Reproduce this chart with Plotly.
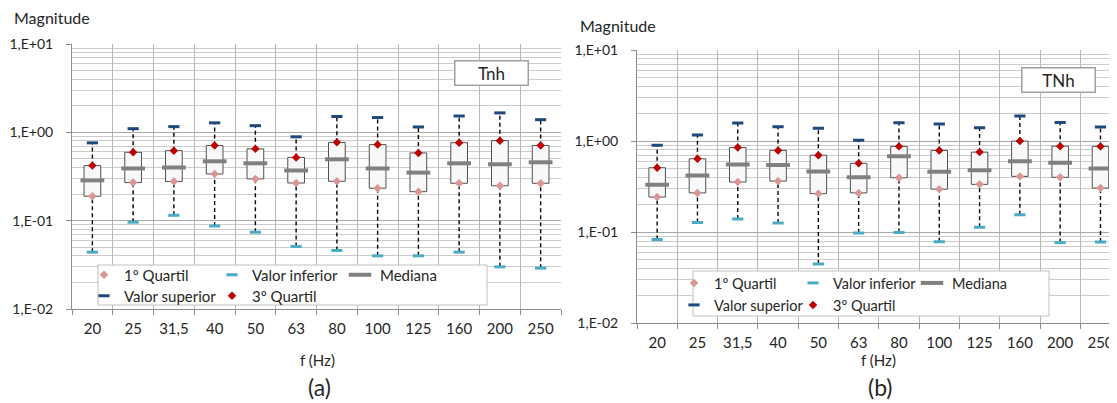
import plotly.graph_objects as go

freq = ["20", "25", "31,5", "40", "50", "63", "80", "100", "125", "160", "200", "250"]

# Panel (a) - Tnh
a_lower = [0.044, 0.096, 0.115, 0.087, 0.074, 0.051, 0.046, 0.040, 0.040, 0.044, 0.030, 0.029]
a_q1 = [0.189, 0.270, 0.277, 0.338, 0.297, 0.267, 0.279, 0.233, 0.213, 0.265, 0.248, 0.265]
a_med = [0.286, 0.390, 0.400, 0.470, 0.446, 0.370, 0.495, 0.390, 0.350, 0.446, 0.435, 0.458]
a_q3 = [0.420, 0.594, 0.620, 0.710, 0.650, 0.520, 0.770, 0.726, 0.585, 0.764, 0.805, 0.710]
a_upper = [0.76, 1.10, 1.16, 1.28, 1.19, 0.89, 1.51, 1.47, 1.15, 1.53, 1.66, 1.39]

# Panel (b) - TNh
b_lower = [0.083, 0.128, 0.140, 0.126, 0.0447, 0.098, 0.099, 0.0787, 0.113, 0.155, 0.077, 0.078]
b_q1 = [0.243, 0.270, 0.355, 0.364, 0.265, 0.270, 0.396, 0.297, 0.335, 0.410, 0.400, 0.305]
b_med = [0.332, 0.420, 0.555, 0.545, 0.465, 0.400, 0.680, 0.460, 0.480, 0.600, 0.580, 0.500]
b_q3 = [0.510, 0.640, 0.850, 0.790, 0.700, 0.570, 0.875, 0.790, 0.757, 1.000, 0.880, 0.875]
b_upper = [0.90, 1.17, 1.58, 1.44, 1.38, 1.02, 1.59, 1.54, 1.40, 1.88, 1.60, 1.43]

y_tickvals = [0.01, 0.1, 1, 10]
y_ticktext = ["1,E-02", "1,E-01", "1,E+00", "1,E+01"]

# page body has an 8px default margin: figure is laid out in window pixels minus that offset
OFF = 8
W, H = 1117 - OFF, 403 - OFF
FONT = "Lato"
TXT = "#262626"
C_Q1 = "#d99694"
C_Q3 = "#c00000"
C_UP = "#1f497d"
C_LO = "#4bacc6"
C_MED = "#808080"


def px(x):
    return (x - OFF) / W


def py(y):
    return 1 - (y - OFF) / H


fig = go.Figure()


def add_panel(xa, ya, lower, q1, med, q3, upper, leg_a, leg_b):
    fig.add_trace(go.Bar(
        x=freq, y=[t - b for t, b in zip(q3, q1)], base=q1, width=0.41,
        marker=dict(color="#f8f8f8", line=dict(color="#505050", width=1)),
        xaxis=xa, yaxis=ya, showlegend=False, hoverinfo="skip"))
    wx, wy = [], []
    for c, lo, a, b, up in zip(freq, lower, q1, q3, upper):
        wx += [c, c, None, c, c, None]
        wy += [lo, a, None, b, up, None]
    fig.add_trace(go.Scatter(
        x=wx, y=wy, mode="lines", line=dict(color="#000000", width=1.4, dash="4px,3px"),
        xaxis=xa, yaxis=ya, showlegend=False, hoverinfo="skip"))
    fig.add_trace(go.Scatter(
        x=freq, y=q1, mode="markers", name="1º Quartil",
        marker=dict(symbol="diamond", size=6.5, color=C_Q1),
        xaxis=xa, yaxis=ya, legend=leg_a))
    fig.add_trace(go.Scatter(
        x=freq, y=lower, mode="markers", name="Valor inferior",
        marker=dict(symbol="line-ew", size=8, line=dict(color=C_LO, width=3)),
        xaxis=xa, yaxis=ya, legend=leg_a))
    fig.add_trace(go.Scatter(
        x=freq, y=med, mode="markers", name="Mediana",
        marker=dict(symbol="line-ew", size=17, line=dict(color=C_MED, width=4)),
        xaxis=xa, yaxis=ya, legend=leg_a))
    fig.add_trace(go.Scatter(
        x=freq, y=upper, mode="markers", name="Valor superior",
        marker=dict(symbol="line-ew", size=8, line=dict(color=C_UP, width=3)),
        xaxis=xa, yaxis=ya, legend=leg_b))
    fig.add_trace(go.Scatter(
        x=freq, y=q3, mode="markers", name="3º Quartil",
        marker=dict(symbol="diamond", size=6.5, color=C_Q3),
        xaxis=xa, yaxis=ya, legend=leg_b))


add_panel("x", "y", a_lower, a_q1, a_med, a_q3, a_upper, "legend", "legend2")
add_panel("x2", "y2", b_lower, b_q1, b_med, b_q3, b_upper, "legend3", "legend4")

minor_vals = [k * 10 ** e for e in (-2, -1, 0) for k in range(2, 10)]


def xaxis_cfg(x0, x1, rng, anchor):
    return dict(domain=[px(x0), min(1.0, px(x1))], anchor=anchor, type="category", range=rng,
                tickson="boundaries", ticks="outside", ticklen=5, tickcolor="#8c8c8c",
                showgrid=True, gridcolor="#b8b8b8", gridwidth=1,
                showline=True, linecolor="#8c8c8c", linewidth=1, tickangle=0,
                tickfont=dict(family=FONT, size=15, color=TXT),
                ticklabelstandoff=6, fixedrange=True, automargin=False)


def yaxis_cfg(top, bot, anchor):
    return dict(domain=[py(bot), py(top)], anchor=anchor, type="log", range=[-2, 1],
                tickmode="array", tickvals=y_tickvals, ticktext=y_ticktext,
                ticks="outside", ticklen=5, tickcolor="#8c8c8c",
                showgrid=True, gridcolor="#a8a8a8", gridwidth=1,
                minor=dict(tickvals=minor_vals, showgrid=True, gridcolor="#cccccc", ticks=""),
                showline=True, linecolor="#8c8c8c", linewidth=1,
                tickfont=dict(family=FONT, size=14, color=TXT), ticklabelstandoff=10,
                fixedrange=True, automargin=False)


def leg(xpx, ypx, entry, size):
    return dict(x=px(xpx), y=py(ypx), xanchor="left", yanchor="middle",
                orientation="h", entrywidth=entry, entrywidthmode="pixels",
                bgcolor="rgba(0,0,0,0)", borderwidth=0, traceorder="normal",
                font=dict(family=FONT, size=size, color=TXT), itemclick=False)


fig.update_layout(
    width=W, height=H, margin=dict(l=0, r=0, t=0, b=0, autoexpand=False),
    paper_bgcolor="white", plot_bgcolor="white", barmode="overlay",
    font=dict(family=FONT, size=15, color=TXT),
    xaxis=xaxis_cfg(72, 561, [-0.5, 11.5], "y"),
    yaxis=yaxis_cfg(44, 309, "x"),
    xaxis2=xaxis_cfg(637, 1117, [-0.5, 11.41], "y2"),
    yaxis2=yaxis_cfg(50, 323.3, "x2"),
    legend=leg(84, 275, 83, 15),
    legend2=leg(84, 296, 83, 15),
    legend3=leg(674, 283, 74, 14.5),
    legend4=leg(674, 305, 74, 14.5),
    shapes=[
        dict(type="rect", xref="paper", yref="paper", x0=px(98), x1=px(487),
             y0=py(305), y1=py(265), fillcolor="white",
             line=dict(color="#c0c0c0", width=1), layer="above"),
        dict(type="rect", xref="paper", yref="paper", x0=px(693), x1=px(1049),
             y0=py(316), y1=py(271), fillcolor="white",
             line=dict(color="#c0c0c0", width=1), layer="above"),
    ],
    annotations=[
        dict(text="Magnitude", xref="paper", yref="paper", x=px(12), y=py(17),
             xanchor="left", yanchor="middle", showarrow=False, font=dict(size=16)),
        dict(text="Magnitude", xref="paper", yref="paper", x=px(578), y=py(25),
             xanchor="left", yanchor="middle", showarrow=False, font=dict(size=16)),
        dict(text="f (Hz)", xref="paper", yref="paper", x=px(317), y=py(360),
             xanchor="center", yanchor="middle", showarrow=False, font=dict(size=15)),
        dict(text="f (Hz)", xref="paper", yref="paper", x=px(878), y=py(360),
             xanchor="center", yanchor="middle", showarrow=False, font=dict(size=15)),
        dict(text="(a)", xref="paper", yref="paper", x=px(319), y=py(387),
             xanchor="center", yanchor="middle", showarrow=False, font=dict(size=23)),
        dict(text="(b)", xref="paper", yref="paper", x=px(880), y=py(387),
             xanchor="center", yanchor="middle", showarrow=False, font=dict(size=23)),
        dict(text="Tnh", xref="paper", yref="paper", x=px(491), y=py(72.5),
             xanchor="center", yanchor="middle", showarrow=False, font=dict(size=17),
             width=70, height=21, bgcolor="white", bordercolor="#a0a0a0", borderwidth=1.5),
        dict(text="TNh", xref="paper", yref="paper", x=px(1058.5), y=py(80.5),
             xanchor="center", yanchor="middle", showarrow=False, font=dict(size=17),
             width=70, height=21, bgcolor="white", bordercolor="#a0a0a0", borderwidth=1.5),
    ],
)

fig.write_html("out.html")
